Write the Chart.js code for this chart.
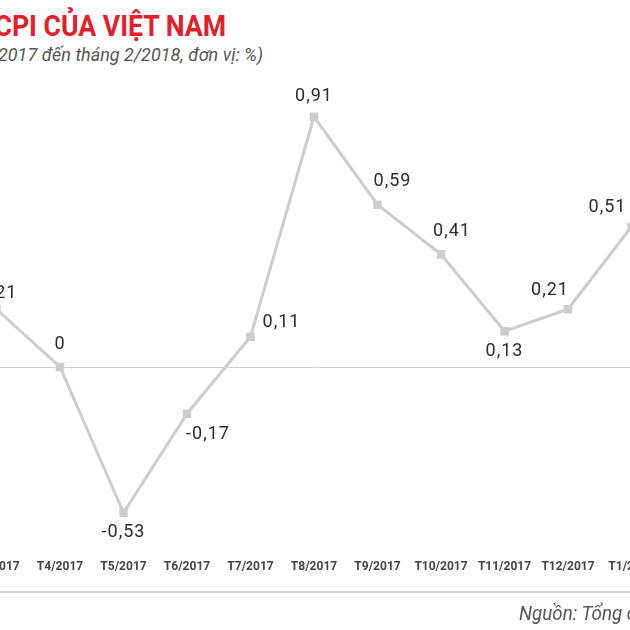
<!DOCTYPE html>
<html>
<head>
<meta charset="utf-8">
<script src="https://cdn.jsdelivr.net/npm/chart.js@4"></script>
<style>
  html, body { margin: 0; padding: 0; background: #fff; overflow: hidden; width: 630px; height: 630px; }
  .wrap { position: relative; width: 630px; height: 630px; overflow: hidden; }
  .title { position: absolute; right: 404px; top: 11.6px; font: 700 29px/1 Roboto, sans-serif; color: #e0202a; white-space: nowrap; transform: scaleX(0.92); transform-origin: right center; }
  .subtitle { position: absolute; right: 367px; top: 46px; font: italic 400 18px/1 Roboto, sans-serif; color: #555; white-space: nowrap; }
  .source { position: absolute; left: 519px; top: 603px; font: italic 400 20px/1 Roboto, sans-serif; color: #555; white-space: nowrap; transform: scaleX(0.94); transform-origin: left center; }
  .baseline { position: absolute; left: 0; top: 591px; width: 630px; height: 2px; background: #d4d4d4; }
  .chart-box { position: absolute; left: -50px; top: 0; width: 730px; height: 630px; }
</style>
</head>
<body>
<div class="wrap">
  <div class="title">DIỄN BIẾN CPI CỦA VIỆT NAM</div>
  <div class="subtitle">(từ tháng 3/2017 đến tháng 2/2018, đơn vị: %)</div>
  <div class="chart-box"><canvas id="chart" width="730" height="630"></canvas></div>
  <div class="baseline"></div>
  <div class="source">Nguồn: Tổng cục Thống kê</div>
</div>
<script>
// data
    const months = ['T3/2017', 'T4/2017', 'T5/2017', 'T6/2017', 'T7/2017', 'T8/2017',
                    'T9/2017', 'T10/2017', 'T11/2017', 'T12/2017', 'T1/2018'];
    const cpiChange = [0.21, 0, -0.53, -0.17, 0.11, 0.91, 0.59, 0.41, 0.13, 0.21, 0.51];

// where each value label sits relative to its point
    const labelOffsets = [[2, -16], [0, -23], [0, 20], [21, 21], [31, -14], [0, -20],
                          [15, -23], [11, -23], [0, 20], [-18, -19], [-24, -19]];

// value labels plugin
    const valueLabels = {
        id: 'valueLabels',
        afterDatasetsDraw(chart) {
            const ctx = chart.ctx;
            const meta = chart.getDatasetMeta(0);
            ctx.save();
            ctx.font = '400 18px Roboto, sans-serif';
            ctx.letterSpacing = '1px';
            ctx.fillStyle = '#2b2b2b';
            ctx.textAlign = 'center';
            ctx.textBaseline = 'middle';
            meta.data.forEach((pt, i) => {
                const txt = cpiChange[i].toString().replace('.', ',');
                ctx.fillText(txt, pt.x + labelOffsets[i][0], pt.y + labelOffsets[i][1]);
            });
            ctx.restore();
        }
    };

// config
    const config = {
        type: 'line',
        data: {
            labels: months,
            datasets: [{
                data: cpiChange,
                borderColor: '#cdcdcd',
                backgroundColor: '#cdcdcd',
                borderWidth: 3,
                tension: 0,
                pointStyle: 'rect',
                pointRadius: 6,
                pointBackgroundColor: '#cdcdcd',
                pointBorderWidth: 0,
            }]
        },
        options: {
            responsive: false,
            animation: false,
            layout: { padding: { left: 46.5, right: 48.5, top: 92, bottom: 0 } },
            plugins: { legend: { display: false }, tooltip: { enabled: false } },
            scales: {
                x: {
                    offset: false,
                    grid: { display: false, drawTicks: false },
                    border: { display: false },
                    ticks: {
                        color: '#444',
                        font: { family: 'Roboto', size: 12, weight: '700' },
                        padding: 0,
                        maxRotation: 0,
                        autoSkip: false
                    },
                    afterFit(scale) { scale.height = 70.5; }
                },
                y: {
                    min: -0.7,
                    max: 1.0,
                    ticks: { display: false, stepSize: 0.1 },
                    border: { display: false },
                    grid: {
                        drawTicks: false,
                        lineWidth: 1,
                        color: (c) => Math.abs(c.tick.value) < 1e-9 ? '#d0d0d0' : 'transparent'
                    },
                    afterFit(scale) { scale.width = 0; }
                }
            }
        },
        plugins: [valueLabels]
    };

// render
    const myChart = new Chart(document.getElementById('chart'), config);
</script>
</body>
</html>
